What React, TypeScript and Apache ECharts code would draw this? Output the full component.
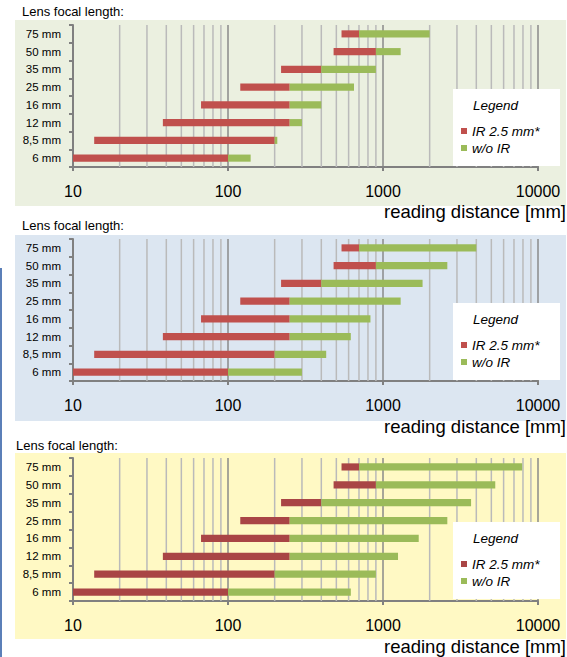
import React, { useEffect, useRef } from "react";
import * as echarts from "echarts";

const CATEGORIES = ["6 mm", "8,5 mm", "12 mm", "16 mm", "25 mm", "35 mm", "50 mm", "75 mm"];
const IR_START = [10, 13.7, 38, 67, 120, 220, 480, 540];
const IR_END = [100, 200, 250, 250, 250, 400, 900, 700];
const NOIR_END_PANEL1 = [140, 208, 300, 400, 650, 900, 1300, 2000];
const NOIR_END_PANEL2 = [300, 430, 620, 830, 1300, 1800, 2600, 4000];
const NOIR_END_PANEL3 = [620, 900, 1250, 1700, 2600, 3700, 5300, 7900];
const MINOR_GRID = [20, 30, 40, 50, 60, 70, 80, 90, 200, 300, 400, 500, 600, 700, 800, 900, 2000, 3000, 4000, 5000, 6000, 7000, 8000, 9000];
const LEGEND_NAMES = ["IR 2.5 mm*", "w/o IR"];
const TITLE = "Lens focal length:";
const X_NAME = "reading distance [mm]";

const FONT = "'Liberation Sans', Arial, sans-serif";
const GREEN = "#9BBB59";

const PANELS = [
  { top: 25, height: 142, bgTop: 20, bgBottom: 206, bg: "#EBF0E0", red: "#C0504D", ends: NOIR_END_PANEL1, titleX: 22, titleY: 11, nameY: 211 },
  { top: 239, height: 142, bgTop: 235, bgBottom: 421, bg: "#DCE6F1", red: "#C0504D", ends: NOIR_END_PANEL2, titleX: 22, titleY: 225, nameY: 426 },
  { top: 458, height: 143, bgTop: 453, bgBottom: 639, bg: "#FFF9C4", red: "#A94545", ends: NOIR_END_PANEL3, titleX: 16, titleY: 445, nameY: 646 },
];

export default function App() {
  const ref = useRef<HTMLDivElement>(null);
  useEffect(() => {
    if (!ref.current) return;
    const chart = echarts.init(ref.current, undefined, { renderer: "svg" });

    const grids: any[] = [];
    const xAxes: any[] = [];
    const yAxes: any[] = [];
    const series: any[] = [];
    const legends: any[] = [];
    const graphics: any[] = [
      { type: "rect", shape: { x: 0, y: 268, width: 2, height: 389 }, style: { fill: "#5B7FB8" }, z: 0 },
    ];

    PANELS.forEach((p, gi) => {
      grids.push({ left: 73, right: 29, top: p.top, height: p.height, containLabel: false });
      xAxes.push({
        type: "log",
        logBase: 10,
        min: 10,
        max: 10000,
        gridIndex: gi,
        axisLine: { show: true, lineStyle: { color: "#808080", width: 2 } },
        axisTick: { show: true, length: 4, lineStyle: { color: "#808080", width: 2 } },
        axisLabel: { fontSize: 16, color: "#000", fontFamily: FONT, margin: 16, formatter: (v: number) => String(Math.round(v)) },
        splitLine: { show: true, lineStyle: { color: "#8A8A8A", width: 1.5 } },
      });
      yAxes.push({
        type: "category",
        data: CATEGORIES,
        gridIndex: gi,
        boundaryGap: true,
        axisLine: { show: true, lineStyle: { color: "#808080", width: 2 } },
        axisTick: { show: true, length: 4, lineStyle: { color: "#808080", width: 2 } },
        axisLabel: { fontSize: 11.5, color: "#000", fontFamily: FONT, margin: 12 },
        splitLine: { show: false },
      });
      series.push({
        type: "custom",
        name: "grid" + gi,
        xAxisIndex: gi,
        yAxisIndex: gi,
        silent: true,
        z: 1,
        encode: { x: 0, y: 1 },
        data: MINOR_GRID.map((v) => [v, 0]),
        renderItem: (params: any, api: any) => {
          const pt = api.coord([api.value(0), 0]);
          const cs = params.coordSys;
          return {
            type: "line",
            shape: { x1: pt[0], y1: cs.y, x2: pt[0], y2: cs.y + cs.height },
            style: { stroke: "#BABABA", lineWidth: 1.5 },
          };
        },
      });
      const mkBars = (name: string, rows: number[][], color: string) => ({
        type: "custom",
        name,
        xAxisIndex: gi,
        yAxisIndex: gi,
        z: 3,
        itemStyle: { color },
        encode: { x: [1, 2], y: 0 },
        data: rows,
        renderItem: (params: any, api: any) => {
          const c = api.value(0);
          const s = api.coord([api.value(1), c]);
          const e = api.coord([api.value(2), c]);
          const band = api.size([0, 1], [100, c])[1];
          const h = band * 0.4;
          return {
            type: "rect",
            shape: { x: s[0], y: s[1] - h / 2, width: e[0] - s[0], height: h },
            style: { fill: color },
          };
        },
      });
      series.push(mkBars(LEGEND_NAMES[0], CATEGORIES.map((_, i) => [i, IR_START[i], IR_END[i]]), p.red));
      series.push(mkBars(LEGEND_NAMES[1], CATEGORIES.map((_, i) => [i, IR_END[i], p.ends[i]]), GREEN));

      const boxTop = p.top + 64;
      legends.push({
        orient: "vertical",
        left: 461,
        top: boxTop + 35,
        z: 10,
        itemWidth: 6,
        itemHeight: 6,
        itemGap: 3,
        icon: "rect",
        selectedMode: false,
        padding: 0,
        textStyle: { fontSize: 13.5, fontStyle: "italic", color: "#000", fontFamily: FONT, lineHeight: 14 },
        data: [
          { name: LEGEND_NAMES[0], itemStyle: { color: p.red } },
          { name: LEGEND_NAMES[1], itemStyle: { color: GREEN } },
        ],
      });

      graphics.push({ type: "rect", shape: { x: 15, y: p.bgTop, width: 551, height: p.bgBottom - p.bgTop }, style: { fill: p.bg }, z: -10 });
      graphics.push({ type: "rect", shape: { x: 453, y: boxTop, width: 107, height: 77 }, style: { fill: "#FFFFFF" }, z: 2 });
      graphics.push({
        type: "text",
        x: 473,
        y: boxTop + 16,
        z: 6,
        style: { text: "Legend", fill: "#000", font: "italic 13.5px " + FONT, verticalAlign: "middle" },
      });
      graphics.push({
        type: "text",
        x: p.titleX,
        y: p.titleY,
        z: 6,
        style: { text: TITLE, fill: "#000", font: "13px " + FONT, verticalAlign: "middle" },
      });
      graphics.push({
        type: "text",
        x: 566,
        y: p.nameY,
        z: 6,
        style: { text: X_NAME, fill: "#000", font: "18.5px " + FONT, align: "right", verticalAlign: "middle" },
      });
    });

    chart.setOption({
      animation: false,
      backgroundColor: "#FFFFFF",
      grid: grids,
      xAxis: xAxes,
      yAxis: yAxes,
      legend: legends,
      series,
      graphic: { elements: graphics },
    });
    return () => chart.dispose();
  }, []);
  return <div ref={ref} style={{ position: "absolute", left: 0, top: 0, width: 567, height: 657 }} />;
}
